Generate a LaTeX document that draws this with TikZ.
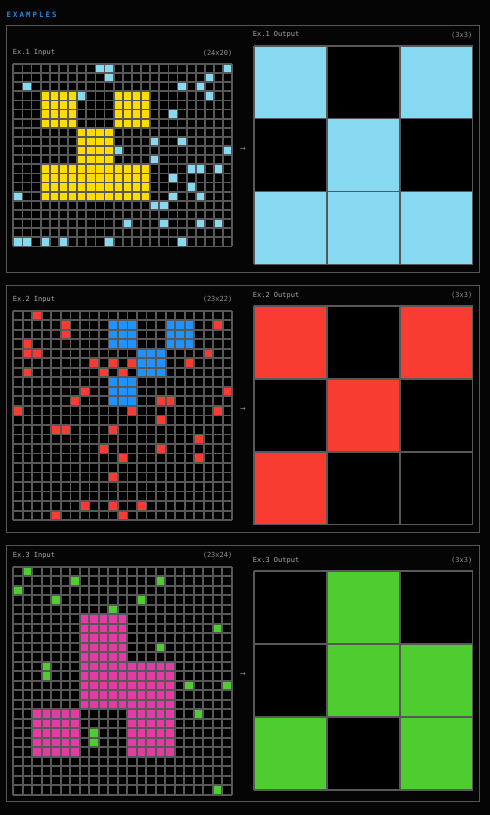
\documentclass[tikz,border=0pt]{standalone}
\usepackage{fontspec}
\setmonofont{DejaVu Sans Mono}
\definecolor{bg}{HTML}{050505}
\definecolor{frame}{HTML}{555555}
\definecolor{gridc}{HTML}{585858}
\definecolor{txt}{HTML}{A8A8A8}
\definecolor{ttl}{HTML}{1E88E5}
\definecolor{lb}{HTML}{87D8F1}
\definecolor{yl}{HTML}{FFDC00}
\definecolor{rd}{HTML}{F93C31}
\definecolor{bl}{HTML}{1E93FF}
\definecolor{mg}{HTML}{E53AA3}
\definecolor{gr}{HTML}{4FCC30}

% grid: [opts] x, y, cols, rows, cell size, fills
\newcommand\arcgrid[7][]{%
  \begin{scope}[shift={(#2,#3)},x=#6pt,y=-#6pt,line width=1.8pt,#1]
    \fill[black] (0,0) rectangle (#4,#5);
    #7
    \foreach \i in {0,...,#4} \draw[gridc] (\i,0) -- (\i,#5);
    \foreach \j in {0,...,#5} \draw[gridc] (0,\j) -- (#4,\j);
  \end{scope}}
\newcommand\cells[2]{\foreach \c/\r in {#2} \fill[#1] (\c,\r) rectangle ++(1,1);}
\newcommand\block[5]{\fill[#1] (#2,#4) rectangle (#3+1,#5+1);}

\begin{document}
\begin{tikzpicture}[
  x=1pt, y=-1pt,
  panel/.style={draw=frame, line width=0.8pt},
  lbl/.style={inner sep=0pt, text=txt, font=\ttfamily\fontsize{7}{8}\selectfont},
  dims/.style={lbl, anchor=east, text=txt!85!black},
  arr/.style={inner sep=0pt, text=txt!85!black, font=\ttfamily\fontsize{9}{10}\selectfont},
]
\fill[bg] (0,0) rectangle (490,815);
\useasboundingbox (0,0) rectangle (490,815);

\node[inner sep=0pt, anchor=west, text=ttl,
  font=\ttfamily\bfseries\fontsize{7.4}{8}\selectfont\addfontfeature{LetterSpace=28}]
  (title) at (6.3,15) {EXAMPLES};

% example 1
\draw[panel] (6.3,25.3) rectangle (479.3,272.3);
\node[lbl, anchor=west] (in1) at (12.7,53) {Ex.1 Input};
\node[dims] (in1d) at (232.5,53) {(24x20)};
\arcgrid{13.3}{63.9}{24}{20}{9.125}{%
  \cells{lb}{9/0,10/0,23/0,10/1,21/1,1/2,18/2,20/2,7/3,21/3,17/5,15/8,18/8,
    11/9,23/9,15/10,19/11,20/11,22/11,17/12,19/13,0/14,17/14,20/14,15/15,16/15,
    12/17,16/17,20/17,22/17,0/19,1/19,3/19,5/19,10/19,18/19}
  \block{yl}{3}{6}{3}{6}
  \block{yl}{11}{14}{3}{6}
  \block{yl}{7}{10}{7}{10}
  \block{yl}{3}{14}{11}{14}}
\node[arr] (a1) at (243,150) {→};
\node[lbl, anchor=west] (out1) at (252.7,35) {Ex.1 Output};
\node[dims] (out1d) at (472.5,35) {(3x3)};
\arcgrid[line width=1.6pt]{254}{45.7}{3}{3}{72.87}{%
  \cells{lb}{0/0,2/0,1/1,0/2,1/2,2/2}}

% example 2
\draw[panel] (6.3,285.3) rectangle (479.3,532);
\node[lbl, anchor=west] (in2) at (12.7,299.7) {Ex.2 Input};
\node[dims] (in2d) at (232.5,299.7) {(23x22)};
\arcgrid{13.3}{310.7}{23}{22}{9.52}{%
  \cells{rd}{2/0,5/1,21/1,5/2,1/3,1/4,2/4,20/4,8/5,10/5,12/5,18/5,1/6,9/6,11/6,
    7/8,22/8,6/9,15/9,16/9,0/10,12/10,21/10,15/11,4/12,5/12,10/12,19/13,9/14,
    15/14,11/15,19/15,10/17,7/20,10/20,13/20,4/21,11/21}
  \block{bl}{10}{12}{1}{3}
  \block{bl}{16}{18}{1}{3}
  \block{bl}{13}{15}{4}{6}
  \block{bl}{10}{12}{7}{9}}
\node[arr] (a2) at (243,410) {→};
\node[lbl, anchor=west] (out2) at (252.7,295.3) {Ex.2 Output};
\node[dims] (out2d) at (472.5,295.3) {(3x3)};
\arcgrid[line width=1.6pt]{254}{306}{3}{3}{72.87}{%
  \cells{rd}{0/0,2/0,1/1,0/2}}

% example 3
\draw[panel] (6.3,545.7) rectangle (479.3,801.3);
\node[lbl, anchor=west] (in3) at (12.7,555.7) {Ex.3 Input};
\node[dims] (in3d) at (232.5,555.7) {(23x24)};
\arcgrid{13.3}{566.7}{23}{24}{9.5}{%
  \cells{gr}{1/0,6/1,15/1,0/2,4/3,13/3,10/4,21/6,15/8,3/10,3/11,18/12,22/12,
    19/15,8/17,8/18,21/23}
  \block{mg}{7}{11}{5}{9}
  \block{mg}{7}{16}{10}{14}
  \block{mg}{2}{6}{15}{19}
  \block{mg}{12}{16}{15}{19}}
\node[arr] (a3) at (243,675) {→};
\node[lbl, anchor=west] (out3) at (252.7,560.2) {Ex.3 Output};
\node[dims] (out3d) at (472.5,560.2) {(3x3)};
\arcgrid[line width=1.6pt]{254}{571.2}{3}{3}{72.87}{%
  \cells{gr}{1/0,1/1,2/1,0/2,2/2}}
\end{tikzpicture}
\end{document}
